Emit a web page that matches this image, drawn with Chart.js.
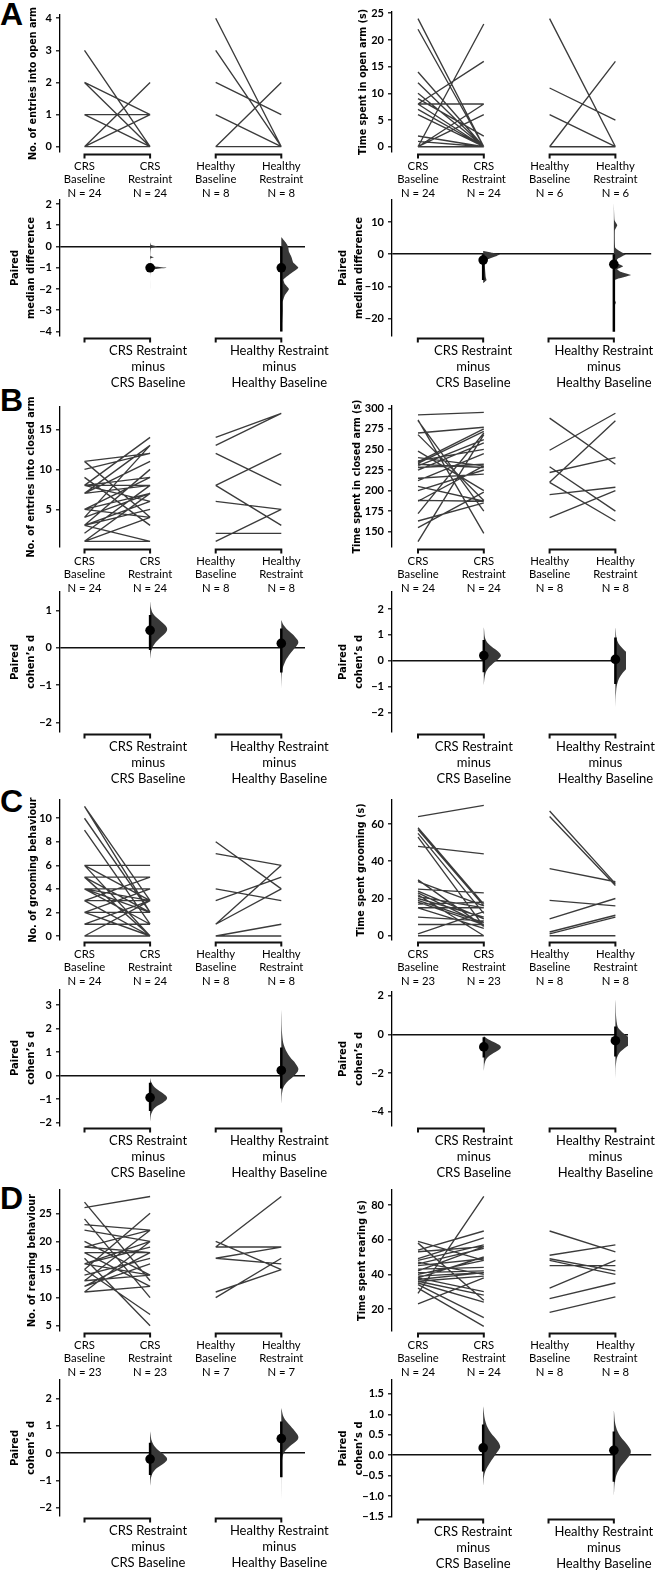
<!DOCTYPE html>
<html><head><meta charset="utf-8">
<script src="https://cdn.jsdelivr.net/npm/chart.js@4.4.0/dist/chart.umd.min.js"></script>
<style>
html,body{margin:0;padding:0;background:#fff;}
#fig{position:relative;width:656px;height:1571px;overflow:hidden;background:#fff;}
#fig canvas{position:absolute;}
.plab{position:absolute;left:0;font-family:"Liberation Sans",Arial,sans-serif;font-weight:bold;font-size:32px;line-height:32px;color:#000;}
</style></head><body>
<div id="fig">
<div class="plab" style="top:-2px">A</div>
<div class="plab" style="top:384px">B</div>
<div class="plab" style="top:785px">C</div>
<div class="plab" style="top:1182px">D</div>
</div>
<script>
// ---------- labels ----------
const groupLines = [['CRS','Baseline'],['CRS','Restraint'],['Healthy','Baseline'],['Healthy','Restraint']];
const deltaLines = [['CRS Restraint','minus','CRS Baseline'],['Healthy Restraint','minus','Healthy Baseline']];

// ---------- Panel A ----------
const aEntTicks = [0,1,2,3,4];
const aEntCrsBase = [3,2,2,2,1,1,1,1,1,1,1,1,1,0,0,0,0,0,0,0,0,0,0,0];
const aEntCrsRest = [0,1,0,0,1,0,0,0,0,0,0,0,0,2,2,1,1,0,0,0,0,0,0,0];
const aEntHBase = [4,4,3,2,1,0,0,0];
const aEntHRest = [0,0,0,1,0,2,0,0];
const aTimeTicks = [0,5,10,15,20,25];
const aTimeCrsBase = [24,22,14,12,10,9,8,8,8,7,6,0,0,0,2,1,1,0,0,0,0,0,0,0];
const aTimeCrsRest = [0,0,0,0,0,2,16,0,8,0,0,23,8,6,0,0,0,0,0,0,0,0,0,0];
const aTimeHBase = [24,11,6,0,0,0];
const aTimeHRest = [0,5,0,16,0,0];
const aEntDeltaTicks = [-4,-3,-2,-1,0,1,2];
const aEntDelta = [-1, -1];
const aEntCI = [[-1,-1],[-4,0]];
const aEntCrsViolin = [[-2,0],[-1.2,0.02],[-1.06,0.3],[-1,1],[-0.94,0.3],[-0.8,0.02],[-0.56,0.02],[-0.5,0.22],[-0.44,0.02],[-0.08,0.05],[0,0.42],[0.08,0.05],[0.2,0]];
const aEntHViolin = [[-4.1,0],[-3.5,0.05],[-3,0.08],[-2.6,0.08],[-2.3,0.2],[-2,0.45],[-1.75,0.2],[-1.55,0.12],[-1.3,0.5],[-1,1],[-0.75,0.7],[-0.5,0.6],[-0.25,0.45],[0,0.4],[0.2,0.25],[0.45,0]];
const aTimeDeltaTicks = [-20,-10,0,10];
const aTimeDelta = [-1.8, -3.1];
const aTimeCI = [[-8,0],[-24,0]];
const aTimeCrsViolin = [[-9,0],[-8,0.2],[-7,0.15],[-3,0.1],[-1.5,0.3],[-0.5,0.8],[0,1],[0.5,0.5],[1,0]];
const aTimeHViolin = [[-24,0],[-16,0.04],[-15,0.12],[-14,0.04],[-8,0.06],[-7.2,0.5],[-6.4,1],[-5.4,0.4],[-4.6,0.2],[-3.7,0.55],[-2.8,0.2],[-1.5,0.2],[-0.6,0.5],[0,0.7],[0.8,0.4],[2,0.08],[7.5,0.06],[9,0.2],[10.5,0.04],[16,0]];

// ---------- Panel B ----------
const bEntTicks = [5,10,15];
const bEntCrsBase = [11,11,10,9,8,8,8,7,7,5,5,5,4,4,3,3,3,3,2,1,1,1,7,8];
const bEntCrsRest = [4,12,12,3,14,8,6,13,11,9,4,7,7,13,10,1,6,5,8,4,1,7,8,9];
const bEntHBase = [14,13,12,8,8,6,2,1];
const bEntHRest = [17,17,8,12,3,5,2,5];
const bTimeTicks = [150,175,200,225,250,275,300];
const bTimeCrsBase = [292,286,285,270,268,248,240,236,235,233,232,230,228,225,215,212,205,200,188,187,172,163,155,138];
const bTimeCrsRest = [295,148,175,277,188,200,230,250,275,272,228,262,232,258,220,245,187,225,187,230,270,185,198,268];
const bTimeHBase = [288,249,229,222,210,210,195,167];
const bTimeHRest = [232,294,175,240,285,163,204,200];
const bEntDeltaTicks = [-2,-1,0,1];
const bEntDelta = [0.47, 0.12];
const bEntCI = [[-0.06,0.88],[-0.66,0.52]];
const bEntCrsViolin = [[-0.3,0],[-0.05,0.08],[0.1,0.25],[0.25,0.55],[0.4,0.9],[0.5,1],[0.6,0.9],[0.75,0.55],[0.9,0.2],[1.05,0.06],[1.25,0]];
const bEntHViolin = [[-1.1,0],[-0.6,0.06],[-0.4,0.2],[-0.2,0.45],[0,0.8],[0.15,1],[0.3,0.8],[0.45,0.45],[0.6,0.15],[0.75,0]];
const bTimeDeltaTicks = [-2,-1,0,1,2];
const bTimeDelta = [0.2, 0.05];
const bTimeCI = [[-0.45,0.8],[-0.9,0.9]];
const bTimeCrsViolin = [[-0.95,0],[-0.6,0.06],[-0.35,0.2],[-0.1,0.55],[0.1,0.9],[0.2,1],[0.35,0.85],[0.55,0.45],[0.8,0.12],[1.3,0]];
const bTimeHViolin = [[-1.8,0],[-1.2,0.04],[-0.8,0.15],[-0.5,0.4],[-0.2,0.8],[0,1],[0.2,0.85],[0.45,0.45],[0.75,0.12],[1.3,0]];

// ---------- Panel C ----------
const cCntTicks = [0,2,4,6,8,10];
const cCntCrsBase = [11,11,10,9,6,6,6,5,5,5,4,4,4,4,3,3,3,2,2,2,1,1,0,0];
const cCntCrsRest = [3,2,2,1,6,0,3,5,2,0,4,3,1,2,3,0,5,2,4,0,1,3,3,0];
const cCntHBase = [8,7,4,3,1,1,0,0];
const cCntHRest = [4,6,3,5,6,4,1,0];
const cTimeTicks = [0,20,40,60];
const cTimeCrsBase = [64,58,57,55,53,48,30,29,25,24,23,22,21,20,19,18,17,15,15,10,6,1,0];
const cTimeCrsRest = [70,17,16,12,5,44,5,16,23,9,6,0,15,10,7,6,18,15,4,8,6,13,0];
const cTimeHBase = [67,64,36,19,9,2,1,0];
const cTimeHRest = [28,27,29,16,20,11,10,0];
const cCntDeltaTicks = [-2,-1,0,1,2,3];
const cCntDelta = [-0.93, 0.22];
const cCntCI = [[-1.5,-0.3],[-0.55,1.2]];
const cCntCrsViolin = [[-1.95,0],[-1.6,0.08],[-1.35,0.3],[-1.15,0.75],[-0.95,1],[-0.75,0.75],[-0.55,0.35],[-0.3,0.08],[-0.1,0]];
const cCntHViolin = [[-1.2,0],[-0.6,0.08],[-0.3,0.3],[0,0.75],[0.25,1],[0.5,0.85],[0.8,0.5],[1.2,0.2],[1.6,0.07],[2.8,0]];
const cTimeDeltaTicks = [-4,-2,0,2];
const cTimeDelta = [-0.65, -0.33];
const cTimeCI = [[-1.2,-0.15],[-1.15,0.4]];
const cTimeCrsViolin = [[-1.9,0],[-1.4,0.08],[-1.1,0.35],[-0.85,0.8],[-0.65,1],[-0.45,0.7],[-0.25,0.25],[-0.1,0]];
const cTimeHViolin = [[-2.3,0],[-1.4,0.05],[-1,0.2],[-0.7,0.55],[-0.45,0.95],[-0.3,1],[-0.1,0.7],[0.2,0.3],[0.5,0.1],[1.8,0]];

// ---------- Panel D ----------
const dCntTicks = [5,10,15,20,25];
const dCntCrsBase = [26,27,24,23,22,20,19,19,18,18,17,16,16,16,15,15,14,13,13,12,12,11,11];
const dCntCrsRest = [28,13,10,22,20,14,22,18,18,12,5,20,14,19,25,7,17,22,14,16,18,20,12];
const dCntHBase = [20,19,19,17,17,11,10];
const dCntHRest = [15,28,19,19,16,15,17];
const dTimeTicks = [20,40,60,80];
const dTimeCrsBase = [29,58,59,54,53,49,48,47,46,45,43,42,41,40,39,38,38,37,36,36,35,34,32,23];
const dTimeCrsRest = [85,25,48,65,56,61,57,40,55,49,44,56,42,48,41,50,30,41,39,28,24,15,10,38];
const dTimeHBase = [65,51,49,48,45,32,26,18];
const dTimeHRest = [53,57,42,40,45,48,35,27];
const dCntDeltaTicks = [-2,-1,0,1,2];
const dCntDelta = [-0.22, 0.53];
const dCntCI = [[-0.8,0.38],[-0.88,1.15]];
const dCntCrsViolin = [[-1.2,0],[-0.8,0.1],[-0.55,0.4],[-0.35,0.85],[-0.22,1],[-0.05,0.8],[0.15,0.4],[0.4,0.12],[0.8,0]];
const dCntHViolin = [[-1.7,0],[-0.3,0.04],[0,0.15],[0.25,0.5],[0.45,0.9],[0.6,1],[0.8,0.8],[1.05,0.45],[1.3,0.15],[1.65,0]];
const dTimeDeltaTicks = [-1.5,-1,-0.5,0,0.5,1,1.5];
const dTimeDelta = [0.18, 0.12];
const dTimeCI = [[-0.4,0.75],[-0.65,0.58]];
const dTimeCrsViolin = [[-0.75,0],[-0.45,0.08],[-0.25,0.3],[0,0.7],[0.15,0.95],[0.22,1],[0.35,0.85],[0.55,0.45],[0.8,0.15],[1.2,0]];
const dTimeHViolin = [[-1.0,0],[-0.6,0.08],[-0.35,0.3],[-0.1,0.75],[0.08,1],[0.25,0.8],[0.45,0.4],[0.7,0.12],[1.1,0]];

// ---------- layout & style ----------
const fig = document.getElementById('fig');
const LEFT = {cx:0, w:345, axisX:60, x0:84.5, step:65.6, topRight:312};
const RIGHT = {cx:328, w:328, axisX:392, x0:418, step:65.8, topRight:650};
const PAD_T = 12;
const VW = 0.26;               // violin max half-width (x units)
const LINE_COL = 'rgba(10,10,10,0.8)';
const VIOLIN_COL = '#383838';
Chart.defaults.font.family = 'Lato';

function mkCanvas(col, top, h){
  const c = document.createElement('canvas');
  c.width = col.w; c.height = h;
  c.style.left = col.cx + 'px'; c.style.top = top + 'px';
  c.style.width = col.w + 'px'; c.style.height = h + 'px';
  fig.appendChild(c); return c;
}
function fmt(v, dec){
  const s = dec ? Number(v).toFixed(dec) : String(Math.round(v*1000)/1000);
  return s.replace('-', '\u2212');
}
const bracketPlugin = {
  id:'bracket',
  afterDraw(chart){
    const {ctx, chartArea, scales:{x}} = chart;
    const y = chartArea.bottom + 2.5;
    ctx.save(); ctx.strokeStyle = '#111'; ctx.lineWidth = 2;
    for (const [a,b] of [[0,1],[2,3]]) {
      const xa = x.getPixelForValue(a), xb = x.getPixelForValue(b);
      ctx.beginPath(); ctx.moveTo(xa, y+4); ctx.lineTo(xa, y); ctx.lineTo(xb, y); ctx.lineTo(xb, y+4); ctx.stroke();
    }
    ctx.restore();
  }
};
function yScale(col, min, max, ticks, title, tcx, zero, dec, lh, size){
  return {
    type:'linear', min, max,
    afterBuildTicks: s => { s.ticks = ticks.map(v => ({value:v})); },
    afterFit: s => { s.width = col.axisX - col.cx; s.paddingTop = 0; s.paddingBottom = 0; },
    border:{display:true, color:'#000', width:1.3},
    grid:{display:true, drawOnChartArea:zero, drawTicks:true, tickLength:4, tickColor:'#000', tickWidth:1.2,
      color: c => (zero && c.tick && c.tick.value === 0) ? '#111' : 'rgba(0,0,0,0)', lineWidth:1.6},
    ticks:{color:'#000', padding:4, font:{family:'Lato', size:11, weight:'bold'}, callback: v => fmt(v, dec)},
    title:{display:true, text:title, color:'#000',
      font:{family:'DejaVu Sans', size:size, weight:'bold', lineHeight:lh/size},
      padding:{top: tcx - col.cx - lh/2, bottom:0}}
  };
}
function xScale(col, rightPx, tickVals, labelFn, fsize, lh, pad, lblOff, axisH){
  const min = -(col.x0 - col.axisX)/col.step;
  const max = min + (rightPx - col.axisX)/col.step;
  return {
    type:'linear', min, max,
    afterBuildTicks: s => { s.ticks = tickVals.map(v => ({value:v})); },
    afterFit: s => { s.height = axisH; s.paddingLeft = 0; s.paddingRight = 0; },
    grid:{display:false, drawTicks:false}, border:{display:false},
    ticks:{autoSkip:false, maxRotation:0, minRotation:0, color:'#000', padding:pad, labelOffset:lblOff,
      font:{family:'Lato', size:fsize, lineHeight:lh/fsize}, callback: v => labelFn(Math.round(v))}
  };
}
function baseOptions(col, rightPx, scales){
  return {
    responsive:false, animation:false, devicePixelRatio:1, events:[],
    layout:{padding:{left:0, top:PAD_T, right:col.cx + col.w - rightPx, bottom:0}},
    plugins:{legend:{display:false}, tooltip:{enabled:false}},
    scales
  };
}
function pairSet(base, rest, xa, xb){
  const d = [];
  base.forEach((b,i) => { d.push({x:xa, y:b}, {x:xb, y:rest[i]}, {x:xb, y:null}); });
  return {data:d, borderColor:LINE_COL, borderWidth:1.35, pointRadius:0, fill:false, tension:0, spanGaps:false};
}
function topChart(col, axTop, axBot, ymin, ymax, yt, title, tcx, cb, cr, hb, hr){
  const axisH = 55;
  const cv = mkCanvas(col, axTop - PAD_T, PAD_T + (axBot - axTop) + axisH);
  const n = [cb.length, cr.length, hb.length, hr.length];
  new Chart(cv, {
    type:'line',
    data:{datasets:[pairSet(cb, cr, 0, 1), pairSet(hb, hr, 2, 3)]},
    options: baseOptions(col, col.topRight, {
      x: xScale(col, col.topRight, [0,1,2,3], i => [...groupLines[i], 'N = ' + n[i]], 11.3, 13.5, 7.25, 0, axisH),
      y: yScale(col, ymin, ymax, yt, title, tcx, false, 0, 11.5, 9.6)
    }),
    plugins:[bracketPlugin]
  });
}
function violinSet(profile, xc, tension){
  return {data: profile.map(([y,d]) => ({x: xc + d*VW, y})), fill:'shape', backgroundColor:VIOLIN_COL,
    borderColor:'rgba(0,0,0,0)', borderWidth:0, pointRadius:0, tension, order:3};
}
function deltaChart(col, axTop, axBot, ymin, ymax, yt, title, tcx, zeroEnd, delta, ci, vCrs, vH, tension, dec, lblOff){
  const axisH = 60;
  const cv = mkCanvas(col, axTop - PAD_T, PAD_T + (axBot - axTop) + axisH);
  new Chart(cv, {
    type:'line',
    data:{datasets:[
      violinSet(vCrs, 1, tension), violinSet(vH, 3, tension),
      {data:[{x:1,y:ci[0][0]},{x:1,y:ci[0][1]},{x:1,y:null},{x:3,y:ci[1][0]},{x:3,y:ci[1][1]}],
        borderColor:'#000', borderWidth:2.5, pointRadius:0, fill:false, spanGaps:false, order:2},
      {data:[{x:1,y:delta[0]},{x:3,y:delta[1]}], showLine:false, pointRadius:4.8, pointBackgroundColor:'#000',
        pointBorderWidth:0, pointBorderColor:'#000', order:1}
    ]},
    options: baseOptions(col, zeroEnd, {
      x: xScale(col, zeroEnd, [1,3], i => deltaLines[(i-1)/2], 13, 16, 7, lblOff, axisH),
      y: yScale(col, ymin, ymax, yt, title, tcx, true, dec, 16.5, 10)
    }),
    plugins:[bracketPlugin]
  });
}

// ---------- Panel A ----------
topChart(LEFT, 15, 152, -0.165, 4.1, aEntTicks, 'No. of entries into open arm', 33, aEntCrsBase, aEntCrsRest, aEntHBase, aEntHRest);
topChart(RIGHT, 12, 152, -0.99, 25.24, aTimeTicks, 'Time spent in open arm (s)', 363, aTimeCrsBase, aTimeCrsRest, aTimeHBase, aTimeHRest);
deltaChart(LEFT, 200, 336, -4.21, 2.19, aEntDeltaTicks, ['Paired','median difference'], 15, 305, aEntDelta, aEntCI, aEntCrsViolin, aEntHViolin, 0.12, 0, -2);
deltaChart(RIGHT, 200, 336, -25.3, 16.8, aTimeDeltaTicks, ['Paired','median difference'], 343, 653, aTimeDelta, aTimeCI, aTimeCrsViolin, aTimeHViolin, 0.12, 0, -10);
// ---------- Panel B ----------
topChart(LEFT, 407, 547, 0.29, 17.8, bEntTicks, 'No. of entries into closed arm', 31, bEntCrsBase, bEntCrsRest, bEntHBase, bEntHRest);
topChart(RIGHT, 406, 547, 131.4, 302.8, bTimeTicks, 'Time spent in closed arm (s)', 357, bTimeCrsBase, bTimeCrsRest, bTimeHBase, bTimeHRest);
deltaChart(LEFT, 592, 732, -2.26, 1.5, bEntDeltaTicks, ['Paired','cohen\u2019s d'], 15, 305, bEntDelta, bEntCI, bEntCrsViolin, bEntHViolin, 0.4, 0, -2);
deltaChart(RIGHT, 592, 732, -2.76, 2.66, bTimeDeltaTicks, ['Paired','cohen\u2019s d'], 343, 626, bTimeDelta, bTimeCI, bTimeCrsViolin, bTimeHViolin, 0.4, 0, -10);
// ---------- Panel C ----------
topChart(LEFT, 800, 940, -0.34, 11.55, cCntTicks, 'No. of grooming behaviour', 33, cCntCrsBase, cCntCrsRest, cCntHBase, cCntHRest);
topChart(RIGHT, 800, 940, -2.3, 72.9, cTimeTicks, 'Time spent grooming (s)', 361, cTimeCrsBase, cTimeCrsRest, cTimeHBase, cTimeHRest);
deltaChart(LEFT, 990, 1126, -2.14, 3.64, cCntDeltaTicks, ['Paired','cohen\u2019s d'], 15, 305, cCntDelta, cCntCI, cCntCrsViolin, cCntHViolin, 0.4, 0, -2);
deltaChart(RIGHT, 992, 1126, -4.74, 2.19, cTimeDeltaTicks, ['Paired','cohen\u2019s d'], 343, 628, cTimeDelta, cTimeCI, cTimeCrsViolin, cTimeHViolin, 0.4, 0, -10);
// ---------- Panel D ----------
topChart(LEFT, 1190, 1331, 4.06, 29.15, dCntTicks, 'No. of rearing behaviour', 32, dCntCrsBase, dCntCrsRest, dCntHBase, dCntHRest);
topChart(RIGHT, 1190, 1331, 7.3, 88.65, dTimeTicks, 'Time spent rearing (s)', 362, dTimeCrsBase, dTimeCrsRest, dTimeHBase, dTimeHRest);
deltaChart(LEFT, 1380, 1516, -2.30, 2.67, dCntDeltaTicks, ['Paired','cohen\u2019s d'], 15, 305, dCntDelta, dCntCI, dCntCrsViolin, dCntHViolin, 0.4, 0, -2);
deltaChart(RIGHT, 1380, 1517, -1.51, 1.84, dTimeDeltaTicks, ['Paired','cohen\u2019s d'], 343, 653, dTimeDelta, dTimeCI, dTimeCrsViolin, dTimeHViolin, 0.4, 1, -10);
</script>
</body></html>
